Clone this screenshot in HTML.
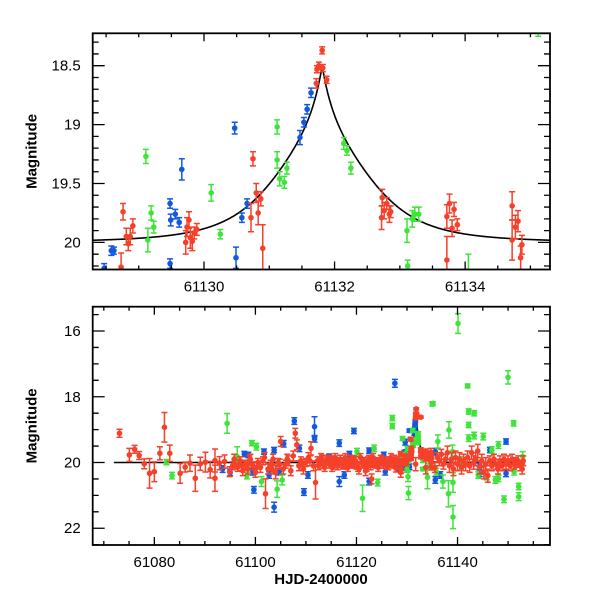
<!DOCTYPE html>
<html><head><meta charset="utf-8"><style>
html,body{margin:0;padding:0;background:#fff}
svg{display:block}
text{font-family:"Liberation Sans",sans-serif;fill:#000}
</style></head><body>
<svg id="chart" width="600" height="600" viewBox="0 0 600 600" xmlns="http://www.w3.org/2000/svg"></svg>
<script>
// ---- top panel data (t, mag, err) ----
const topBlueT=[61128.47,61128.58,61128.62,61129.48,61129.49,61129.56,61129.62,61129.48,61129.66,61130.47,61130.49,61130.58,61130.66,61131.47,61131.53,61131.58,61131.64];
const topBlueM=[20.22,20.07,20.07,19.67,19.81,19.76,19.83,20.18,19.38,19.03,20.13,19.79,19.67,19.11,18.98,18.87,18.73];
const topBlueE=[0.04,0.04,0.03,0.04,0.05,0.04,0.04,0.04,0.09,0.05,0.09,0.04,0.04,0.06,0.04,0.04,0.04];
const topRedT=[61128.76,61128.73,61128.81,61128.84,61128.87,61128.91,61129.72,61129.74,61129.77,61129.79,61129.82,61129.85,61129.89,61130.75,61130.72,61130.80,61130.83,61130.87,61130.90,61131.72,61131.73,61131.76,61131.81,61131.82,61131.88,61132.73,61132.72,61132.76,61132.80,61132.84,61132.86,61133.72,61133.72,61133.76,61133.80,61133.83,61133.88,61134.72,61134.72,61134.77,61134.81,61134.85,61134.87];
const topRedM=[19.74,20.21,19.95,20.01,19.95,19.86,20.00,19.87,19.81,19.96,19.99,19.92,19.89,19.29,19.79,19.58,19.75,19.63,20.05,18.65,18.53,18.50,18.37,18.52,18.62,19.62,19.79,19.73,19.67,19.76,19.74,20.15,19.78,19.67,19.88,19.72,19.85,19.69,19.98,19.87,19.82,20.13,20.02];
const topRedE=[0.07,0.12,0.07,0.06,0.07,0.06,0.10,0.08,0.07,0.09,0.08,0.05,0.05,0.06,0.12,0.08,0.1,0.06,0.2,0.04,0.03,0.03,0.03,0.03,0.03,0.07,0.1,0.07,0.05,0.07,0.05,0.2,0.1,0.08,0.07,0.06,0.05,0.12,0.17,0.1,0.09,0.1,0.08];
const topGreenT=[61129.11,61129.14,61129.19,61129.23,61130.11,61130.25,61131.12,61131.12,61131.16,61131.23,61131.27,61132.14,61132.19,61132.25,61133.11,61133.12,61133.19,61133.23,61133.29,61134.05,61135.12];
const topGreenM=[19.27,19.98,19.75,19.87,19.58,19.93,19.02,19.30,19.46,19.49,19.37,19.16,19.22,19.37,19.90,20.20,19.80,19.76,19.76,20.45,18.20];
const topGreenE=[0.06,0.1,0.06,0.05,0.07,0.04,0.06,0.07,0.06,0.05,0.05,0.05,0.04,0.05,0.1,0.05,0.07,0.06,0.06,0.35,0.05];
// ---- bottom panel extra data ----
const redT=[61073.1,61075.05,61076.1,61077.0,61078.0,61079.05,61080.0,61081.1,61082.0,61083.05,61085.1,61086.1,61087.05,61088.1,61089.1,61090.1,61091.05,61092.0,61092.0,61092.9,61093.9,61094.9,
61095.5,61096.0,61096.5,61097.0,61097.5,61098.0,61098.5,61099.0,61099.5,61100.0,61100.5,61101.0,61101.5,61102.0,61102.5,61103.0,61103.5,61104.0,61104.5,61105.0,61105.5,61106.0,61106.5,61107.0,61107.5,61107.9,61108.2,61108.6,61109.0,61109.5,61110.0,61110.5,61111.0,61111.5,61111.9,61112.3,61112.8,61113.2,61113.7,61114.1,61114.6,61115.0,61115.5,61116.0,61116.5,61117.0,61117.5,61118.0,61118.5,61119.0,61119.5,61120.0,61120.5,61121.0,61121.5,61122.0,61122.5,61123.0,61123.5,61124.0,61124.5,61125.0,61125.5,61126.0,61126.5,61127.0,61127.5,61127.8,61128.1,
61112.5,61113.0,61113.5,61114.3,61115.2,61115.8,61116.3,61116.8,61117.3,61117.8,61118.3,61118.8,61119.3,61119.8,61120.3,61120.8,61121.3,61121.8,61122.3,61122.8,61123.3,61123.8,61124.3,61124.8,61125.3,61125.8,61126.3,61126.8,61127.3,61095.8,61097.3,61098.8,61100.3,61101.8,61103.3,61104.8,61106.3,61109.3,61110.8,
61135.5,61136.0,61136.4,61136.8,61137.2,61137.6,61138.0,61138.4,61138.8,61139.2,61139.6,61140.0,61140.4,61140.8,61141.2,61141.6,61142.0,61142.4,61142.8,61143.2,61143.6,61144.0,61144.4,61144.8,61145.2,61145.6,61146.0,61146.4,61146.8,61147.2,61147.6,61148.0,61148.4,61148.8,61149.2,61149.6,61150.0,61150.4,61150.8,61151.2,61151.6,61152.0,61152.4,61152.8,61153.0];
const redM=[19.11,19.77,19.60,19.79,20.04,20.33,20.28,19.72,18.93,19.72,20.33,20.14,20.02,20.48,20.04,19.99,20.22,20.48,19.94,20.02,19.97,20.28,
20.10,20.05,20.15,19.95,20.25,20.05,20.20,19.90,20.10,20.30,20.00,20.15,19.95,20.95,20.20,20.05,19.90,20.30,20.00,19.36,20.20,20.05,19.95,20.25,19.80,19.11,19.46,20.10,19.95,20.20,20.00,19.85,19.57,20.10,20.61,19.95,20.05,19.90,20.15,19.95,20.05,19.90,20.10,19.95,20.05,19.95,20.10,20.00,19.95,20.05,19.90,20.10,20.20,20.00,19.95,20.15,19.90,20.50,20.05,19.95,20.05,19.90,20.00,20.10,19.95,20.05,19.90,20.17,19.95,
20.10,19.85,20.05,19.90,20.15,19.85,20.10,19.90,20.05,19.85,20.15,19.90,20.05,19.95,20.15,19.85,20.05,20.25,19.95,20.10,19.85,20.05,20.15,19.90,20.05,19.95,20.10,19.85,20.05,19.90,20.10,19.95,20.15,19.85,20.20,20.05,19.90,20.05,19.95,20.15,
19.85,19.95,19.75,20.05,19.90,19.70,20.10,19.90,20.20,19.85,20.05,19.90,20.15,19.95,20.05,19.85,20.10,19.70,20.00,19.90,19.65,20.15,19.95,20.30,20.05,20.40,19.95,20.10,19.90,20.05,20.20,19.95,20.10,19.90,20.05,19.95,20.10,19.90,20.05,20.00,19.95,20.10,20.20,19.95,20.30];
const redE=[0.12,0.2,0.12,0.12,0.15,0.45,0.3,0.2,0.45,0.25,0.3,0.15,0.25,0.4,0.2,0.3,0.25,0.4,0.35,0.2,0.2,0.15,
0.12,0.12,0.12,0.12,0.15,0.12,0.15,0.15,0.12,0.15,0.12,0.15,0.12,0.45,0.15,0.12,0.15,0.2,0.12,0.15,0.15,0.12,0.15,0.15,0.15,0.15,0.15,0.15,0.12,0.15,0.12,0.15,0.2,0.15,0.5,0.12,0.12,0.12,0.12,0.12,0.12,0.1,0.1,0.1,0.1,0.1,0.1,0.1,0.1,0.1,0.1,0.1,0.15,0.12,0.1,0.12,0.12,0.15,0.1,0.1,0.1,0.1,0.1,0.1,0.1,0.1,0.12,0.12,0.12,
0.12,0.12,0.12,0.12,0.12,0.12,0.12,0.12,0.12,0.12,0.12,0.12,0.12,0.12,0.12,0.12,0.12,0.15,0.12,0.12,0.12,0.12,0.12,0.12,0.12,0.12,0.12,0.12,0.12,0.15,0.15,0.15,0.15,0.15,0.15,0.15,0.15,0.15,0.15,0.15,
0.15,0.15,0.15,0.15,0.15,0.2,0.2,0.2,0.2,0.2,0.2,0.2,0.2,0.2,0.2,0.2,0.2,0.2,0.2,0.2,0.2,0.2,0.2,0.2,0.2,0.2,0.15,0.15,0.15,0.15,0.15,0.15,0.15,0.15,0.15,0.15,0.15,0.15,0.15,0.15,0.15,0.15,0.15,0.15,0.15];
const blueT=[61097.8,61098.6,61099.7,61099.5,61101.7,61102.7,61103.7,61103.7,61104.7,61105.6,61107.7,61108.7,61109.6,61110.4,61111.7,61111.7,61114.6,61116.6,61116.6,61117.6,61118.6,61119.5,61122.5,61122.5,61125.4,61125.7,61127.6,61135.6,61135.6,61136.6,61144.4,61146.4,61149.6,61149.6,61144.3,61093.5,61095.0];
const blueM=[19.74,19.77,20.83,20.28,19.67,20.38,21.36,19.62,20.28,19.43,18.74,19.57,20.90,20.38,18.91,19.28,19.82,19.41,20.58,20.38,19.74,19.04,19.64,20.58,19.77,20.28,17.59,19.67,20.53,20.38,20.33,19.62,19.36,20.33,20.12,20.20,20.30];
const blueE=[0.08,0.08,0.1,0.1,0.08,0.1,0.15,0.08,0.1,0.1,0.1,0.1,0.1,0.1,0.3,0.1,0.08,0.1,0.15,0.1,0.08,0.08,0.08,0.1,0.08,0.1,0.12,0.1,0.1,0.1,0.1,0.08,0.08,0.1,0.1,0.1,0.1];
const greenT=[61082.4,61083.5,61094.4,61096.4,61098.3,61099.3,61100.2,61101.2,61104.3,61105.3,61120.1,61121.2,61123.5,61124.2,61127.1,61127.1,61130.2,61130.3,61130.3,61132.2,61135.0,61136.1,61137.1,61138.2,61138.3,61139.1,61139.1,61139.0,61140.1,61142.0,61142.2,61142.2,61143.3,61143.3,61142.2,61145.1,61146.8,61148.1,61148.1,61149.2,61150.0,61151.1,61152.1,61152.1,61152.9,61151.2,61140.7,61144.1,61145.8,61147.5,61135.8,61134.4,61130.0];
const greenM=[19.99,20.40,18.81,19.82,20.40,19.41,19.52,20.58,20.81,20.53,19.67,21.09,19.57,20.61,18.65,18.89,20.43,20.93,19.87,19.26,18.22,19.36,20.58,20.95,19.01,21.66,20.61,19.67,15.77,17.67,18.45,18.86,18.50,19.18,19.26,19.21,19.62,19.47,20.48,21.12,17.41,18.81,20.73,21.04,19.82,20.28,20.02,20.38,20.43,20.53,20.28,20.12,20.20];
const greenE=[0.08,0.1,0.3,0.3,0.1,0.08,0.1,0.15,0.25,0.15,0.1,0.4,0.1,0.1,0.08,0.08,0.15,0.2,0.15,0.2,0.06,0.2,0.2,0.4,0.25,0.35,0.3,0.2,0.3,0.06,0.08,0.08,0.08,0.1,0.1,0.1,0.1,0.1,0.1,0.1,0.2,0.08,0.1,0.12,0.15,0.1,0.2,0.1,0.1,0.1,0.1,0.1,0.1];
// model parameters
const modelPeakT=61131.81, modelBase=20.0, modelAmp=1.5;
const topXTicks=[61130,61132,61134], topYTicks=[18.5,19,19.5,20];
const botXTicks=[61080,61100,61120,61140], botYTicks=[16,18,20,22];

const svg=document.getElementById('chart');
const NS='http://www.w3.org/2000/svg';
function mk(tag,attrs,parent){const e=document.createElementNS(NS,tag);for(const k in attrs)e.setAttribute(k,attrs[k]);(parent||svg).appendChild(e);return e;}
function model(t){const x=Math.abs(t-modelPeakT);return modelBase-modelAmp/(1+2.24*x-1.36*x*x+2.07*x*x*x);}

const COLORS={red:'#f5402a',blue:'#1259e0',green:'#3fe43a'};

function panel(name,L,T,R,B,x0,x1,y0,y1,xMinor,xMajorLab,yMinor,yLab,xTicksLab,yTicksLab,series,modelRange){
  const g=mk('g',{});
  
  
  const sx=t=>L+(t-x0)/(x1-x0)*(R-L);
  const sy=m=>T+(m-y0)/(y1-y0)*(B-T);
  const cid=name+'-clip';
  const defs=mk('defs',{},g);const cp=mk('clipPath',{id:cid},defs);mk('rect',{x:L,y:T,width:R-L,height:B-T},cp);
  const dg=mk('g',{'clip-path':'url(#'+cid+')'},g);
  let d='';const n=800;
  for(let i=0;i<=n;i++){const t=modelRange[0]+(modelRange[1]-modelRange[0])*i/n;d+=(i?'L':'M')+sx(t).toFixed(2)+','+sy(model(t)).toFixed(2);}
  const mc=mk('path',{d:d,fill:'none',stroke:'#000','stroke-width':1.6},dg);
  
  
  for(const s of series){
    const sg=mk('g',{stroke:COLORS[s.c],fill:COLORS[s.c],'stroke-width':1.5},dg);
    
    
    for(let i=0;i<s.t.length;i++){
      const x=sx(s.t[i]),y=sy(s.m[i]),ya=sy(s.m[i]-s.e[i]),yb=sy(s.m[i]+s.e[i]);
      mk('path',{d:`M${x},${ya}V${yb}M${x-3},${ya}H${x+3}M${x-3},${yb}H${x+3}`,fill:'none'},sg);
      const c=mk('circle',{cx:x,cy:y,r:2.8,stroke:'none'},sg);
      
      
    }
  }
  const ax=mk('g',{stroke:'#000','stroke-width':1.3,fill:'none'},g);
  
  
  for(let v=Math.ceil(x0/xMinor)*xMinor;v<=x1+1e-9;v+=xMinor){
    const maj=Math.abs(v/xMajorLab-Math.round(v/xMajorLab))<1e-6;const len=maj?8:4;const x=sx(v);
    mk('path',{d:`M${x},${B}v${-len}M${x},${T}v${len}`},ax);
  }
  for(let v=Math.ceil(y0/yMinor-1e-9)*yMinor;v<=y1+1e-9;v+=yMinor){
    const maj=Math.abs(v/yLab-Math.round(v/yLab))<1e-6;const len=maj?12:6;const y=sy(v);
    mk('path',{d:`M${L},${y}h${len}M${R},${y}h${-len}`},ax);
  }
  mk('rect',{x:L,y:T,width:R-L,height:B-T,'stroke-width':1.8},ax);
  for(const v of xTicksLab){const tx=mk('text',{x:sx(v),y:B+22,'text-anchor':'middle','font-size':15},g);tx.textContent=String(v);
    
    }
  for(const v of yTicksLab){const tx=mk('text',{x:L-12,y:sy(v)+5,'text-anchor':'end','font-size':15},g);tx.textContent=String(v);
    
    }
  const yl=mk('text',{x:0,y:0,'text-anchor':'middle','font-size':15,'font-weight':'bold',transform:`translate(${L-56},${(T+B)/2}) rotate(-90)`},g);
  yl.textContent='Magnitude';
  
  
}

panel('top-panel',92.7,33.3,550,269.5,61128.295,61135.30,18.225,20.23,0.5,2,0.1,0.5,topXTicks,topYTicks,
 [{c:'blue',t:topBlueT,m:topBlueM,e:topBlueE},{c:'green',t:topGreenT,m:topGreenM,e:topGreenE},{c:'red',t:topRedT,m:topRedM,e:topRedE}],[61128.0,61135.6]);
panel('bottom-panel',92.7,306.7,550,545,61067.8,61158.3,15.26,22.51,5,20,0.5,2,botXTicks,botYTicks,
 [{c:'blue',t:blueT.concat(topBlueT),m:blueM.concat(topBlueM),e:blueE.concat(topBlueE)},{c:'green',t:greenT.concat(topGreenT),m:greenM.concat(topGreenM),e:greenE.concat(topGreenE)},{c:'red',t:redT.concat(topRedT),m:redM.concat(topRedM),e:redE.concat(topRedE)}],[61072.0,61153.2]);
const xt=mk('text',{x:321,y:584,'text-anchor':'middle','font-size':15,'font-weight':'bold'});
xt.textContent='HJD-2400000';


</script>
</body></html>
